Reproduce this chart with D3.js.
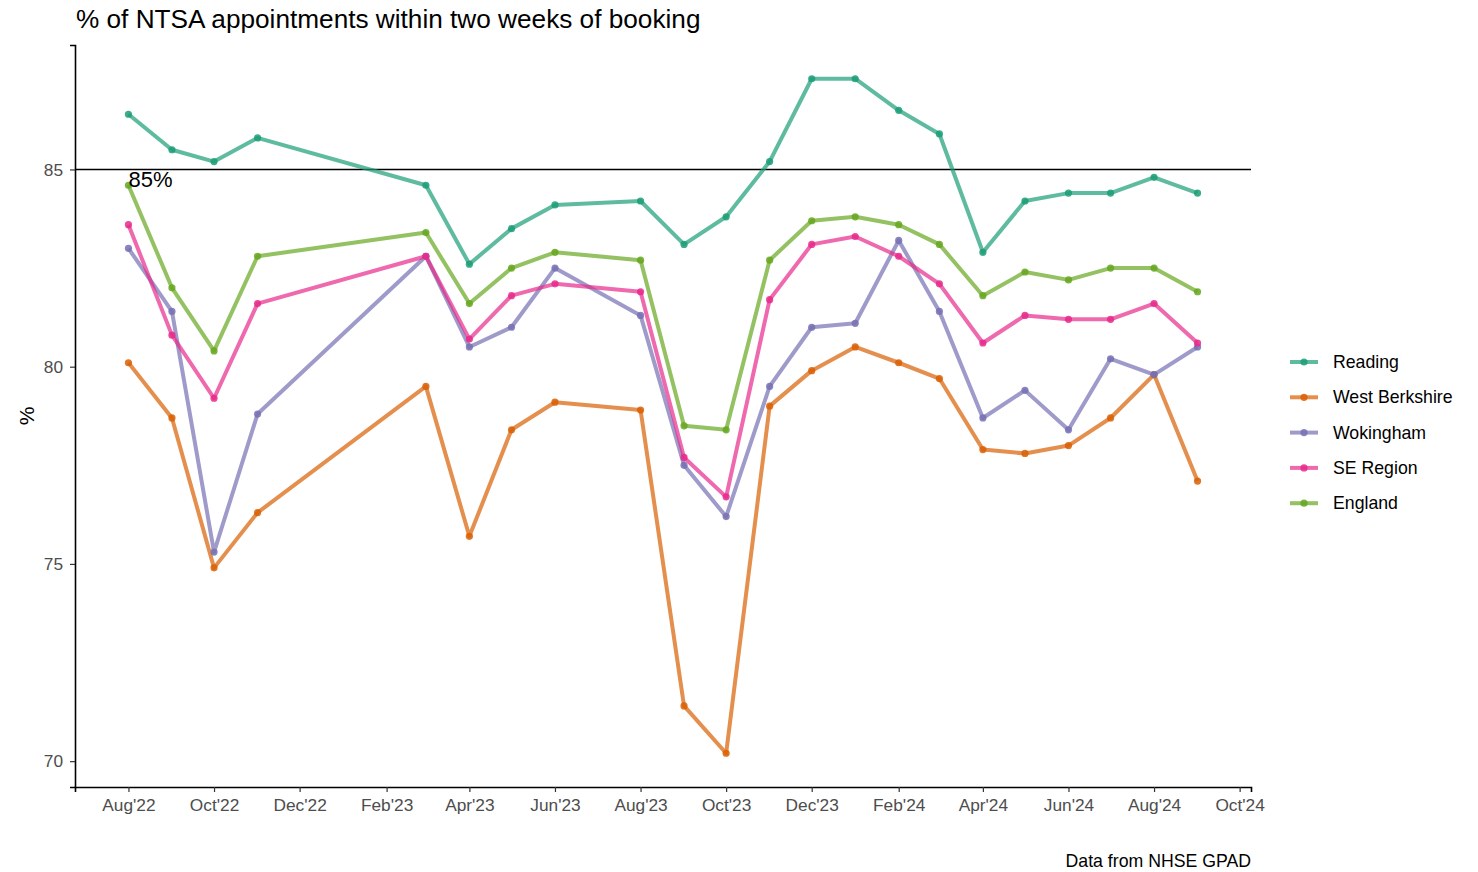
<!DOCTYPE html>
<html><head><meta charset="utf-8">
<script src="https://cdn.jsdelivr.net/npm/d3@7"></script>
<style>body{margin:0;background:#fff;font-family:"Liberation Sans",Arial,sans-serif}</style>
</head><body><svg id="c" width="1478" height="872"></svg>
<script>
const months = ["2022-08","2022-09","2022-10","2022-11","2023-03","2023-04","2023-05","2023-06","2023-08","2023-09","2023-10","2023-11","2023-12","2024-01","2024-02","2024-03","2024-04","2024-05","2024-06","2024-07","2024-08","2024-09"];
const reading = [86.4,85.5,85.2,85.8,84.6,82.6,83.5,84.1,84.2,83.1,83.8,85.2,87.3,87.3,86.5,85.9,82.9,84.2,84.4,84.4,84.8,84.4];
const westBerkshire = [80.1,78.7,74.9,76.3,79.5,75.7,78.4,79.1,78.9,71.4,70.2,79.0,79.9,80.5,80.1,79.7,77.9,77.8,78.0,78.7,79.8,77.1];
const wokingham = [83.0,81.4,75.3,78.8,82.8,80.5,81.0,82.5,81.3,77.5,76.2,79.5,81.0,81.1,83.2,81.4,78.7,79.4,78.4,80.2,79.8,80.5];
const seRegion = [83.6,80.8,79.2,81.6,82.8,80.7,81.8,82.1,81.9,77.7,76.7,81.7,83.1,83.3,82.8,82.1,80.6,81.3,81.2,81.2,81.6,80.6];
const england = [84.6,82.0,80.4,82.8,83.4,81.6,82.5,82.9,82.7,78.5,78.4,82.7,83.7,83.8,83.6,83.1,81.8,82.4,82.2,82.5,82.5,81.9];
const seriesNames = ["Reading","West Berkshire","Wokingham","SE Region","England"];
const seriesColors = ["#1B9E77","#D95F02","#7570B3","#E7298A","#66A61E"];
const yTicks = [70,75,80,85];
const xTickMonths = ["2022-08","2022-10","2022-12","2023-02","2023-04","2023-06","2023-08","2023-10","2023-12","2024-02","2024-04","2024-06","2024-08","2024-10"];
const threshold = 85;

const allSeries = [reading, westBerkshire, wokingham, seRegion, england];
const parse = d3.timeParse("%Y-%m");
const dates = months.map(parse);
const svg = d3.select("#c");
const L = 75, R = 1251, T = 45, B = 787;

const dmin = dates[0], dmax = dates[dates.length-1];
const span = dmax - dmin;
const x = d3.scaleTime().domain([new Date(+dmin - span*0.05), new Date(+dmax + span*0.05)]).range([L, R]);
const allv = allSeries.flat();
const vmin = d3.min(allv), vmax = d3.max(allv), vs = vmax - vmin;
const y = d3.scaleLinear().domain([vmin - vs*0.05, vmax + vs*0.05]).range([B, T]);

// title
svg.append("text").attr("x", 76).attr("y", 28).attr("font-size", 26.2).attr("fill", "#000")
  .text("% of NTSA appointments within two weeks of booking");

// axes
const xAxis = d3.axisBottom(x).tickValues(xTickMonths.map(parse)).tickFormat(d3.timeFormat("%b'%y")).tickSizeOuter(0).tickSize(5).tickPadding(7);
const gx = svg.append("g").attr("transform", `translate(0,${B})`).call(xAxis);
gx.select(".domain").attr("stroke", "#000").attr("stroke-width", 1.6);
gx.selectAll(".tick line").attr("stroke", "#333").attr("stroke-width", 1.2);
gx.selectAll(".tick text").attr("fill", "#4D4D4D").attr("font-size", 17.3).attr("font-family", "Liberation Sans, Arial, sans-serif");

const yAxis = d3.axisLeft(y).tickValues(yTicks).tickSizeOuter(0).tickSize(5).tickPadding(7);
const gy = svg.append("g").attr("transform", `translate(${L},0)`).call(yAxis);
gy.select(".domain").attr("stroke", "#000").attr("stroke-width", 1.6);
gy.selectAll(".tick line").attr("stroke", "#333").attr("stroke-width", 1.2);
gy.selectAll(".tick text").attr("fill", "#4D4D4D").attr("font-size", 17.3).attr("font-family", "Liberation Sans, Arial, sans-serif");

svg.append("text").attr("transform", `translate(34,${(T+B)/2}) rotate(-90)`).attr("text-anchor", "middle")
  .attr("font-size", 21).attr("fill", "#000").text("%");

// threshold line
svg.append("line").attr("x1", L).attr("x2", R).attr("y1", y(threshold)).attr("y2", y(threshold))
  .attr("stroke", "#000").attr("stroke-width", 1.4);

const line = d3.line().x((d,i) => x(dates[i])).y(d => y(d));
allSeries.forEach((s, k) => {
  svg.append("path").datum(s).attr("d", line).attr("fill", "none")
    .attr("stroke", seriesColors[k]).attr("stroke-width", 4).attr("stroke-opacity", 0.7)
    .attr("stroke-linejoin", "round");
  svg.append("g").selectAll("circle").data(s).join("circle")
    .attr("cx", (d,i) => x(dates[i])).attr("cy", d => y(d)).attr("r", 3.6)
    .attr("fill", seriesColors[k]).attr("fill-opacity", 0.85);
});

svg.append("text").attr("x", x(dates[0])).attr("y", y(threshold) + 18).attr("font-size", 22).attr("fill", "#000").text("85%");

// legend
const lg = svg.append("g");
seriesNames.forEach((n, k) => {
  const yy = 362 + k*35.3;
  lg.append("line").attr("x1", 1290).attr("x2", 1318).attr("y1", yy).attr("y2", yy)
    .attr("stroke", seriesColors[k]).attr("stroke-width", 4).attr("stroke-opacity", 0.7);
  lg.append("circle").attr("cx", 1304).attr("cy", yy).attr("r", 3.6).attr("fill", seriesColors[k]).attr("fill-opacity", 0.85);
  lg.append("text").attr("x", 1333).attr("y", yy + 6).attr("font-size", 17.7).attr("fill", "#000").text(n);
});

svg.append("text").attr("x", R).attr("y", 867).attr("text-anchor", "end").attr("font-size", 17.7).attr("fill", "#000").text("Data from NHSE GPAD");
</script></body></html>
